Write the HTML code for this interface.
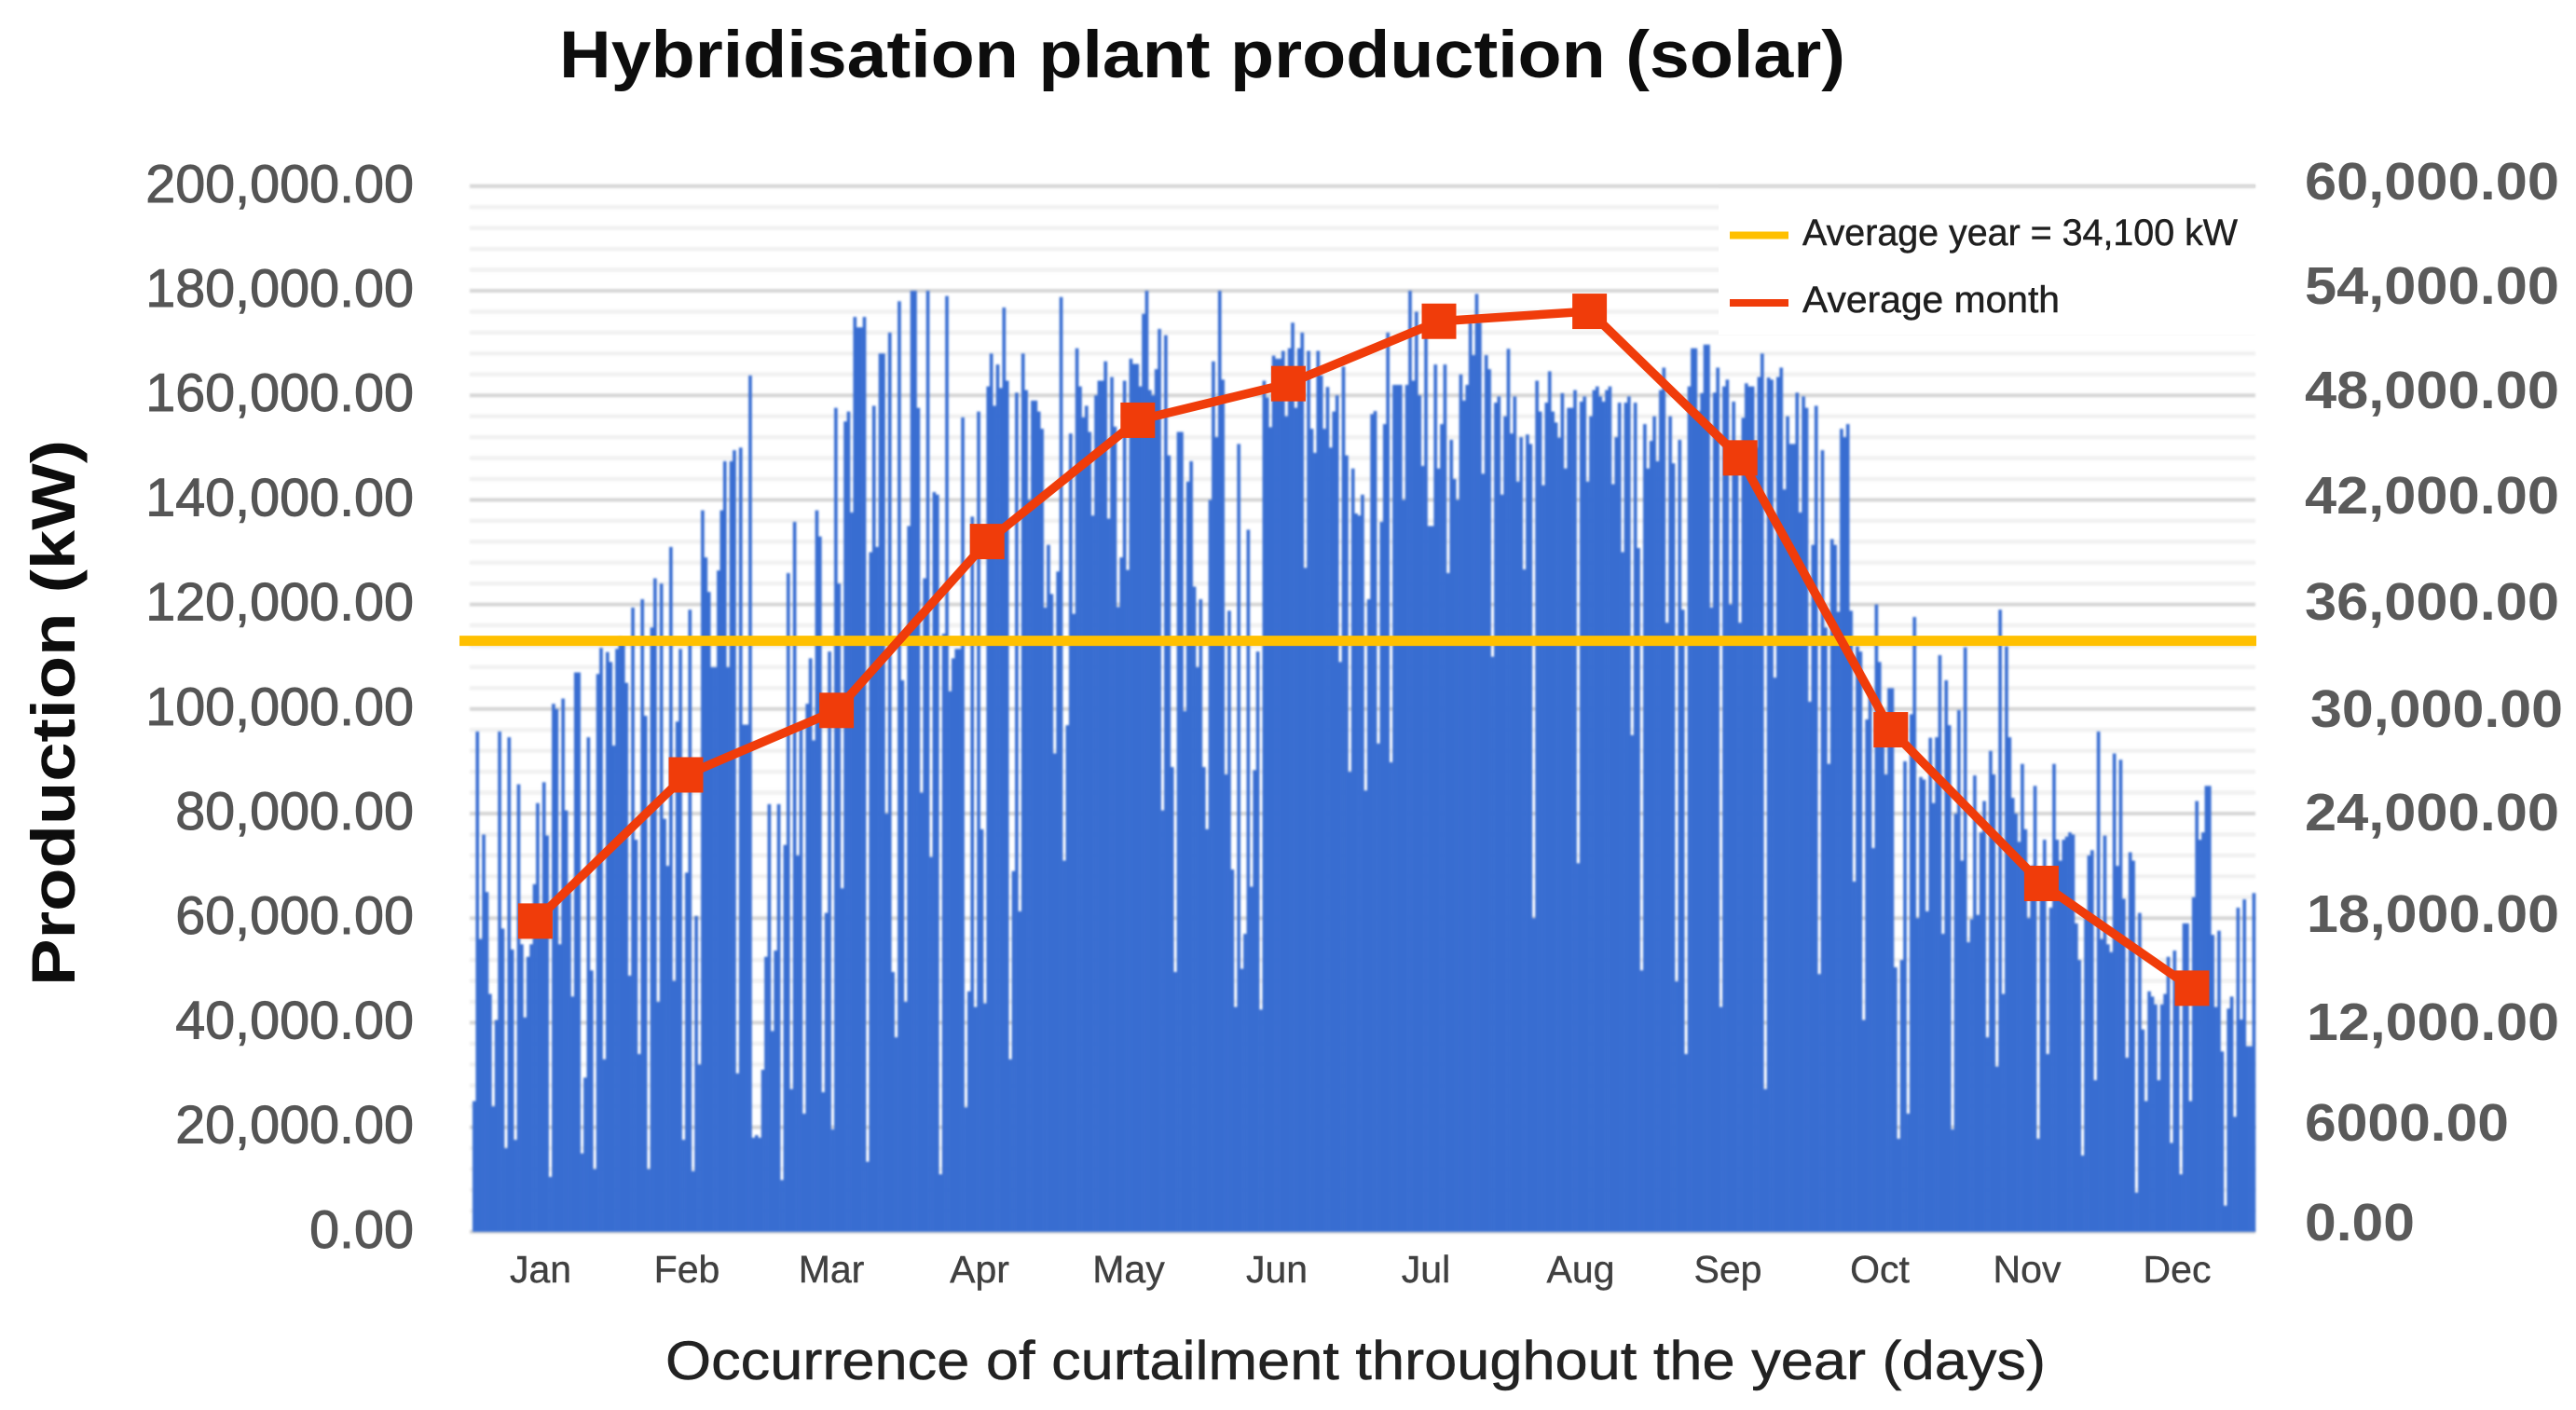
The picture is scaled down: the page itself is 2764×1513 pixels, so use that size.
<!DOCTYPE html>
<html lang="en">
<head>
<meta charset="utf-8">
<title>Hybridisation plant production (solar)</title>
<style>
html,body{margin:0;padding:0;background:#fff;}
body{width:2764px;height:1513px;overflow:hidden;}
svg{display:block;}
text{font-family:"Liberation Sans",sans-serif;}
</style>
</head>
<body>
<svg id="chart" xmlns="http://www.w3.org/2000/svg" width="2764" height="1513" viewBox="0 0 2764 1513">
  <defs>
    <filter id="soft" x="-2%" y="-2%" width="104%" height="104%"><feGaussianBlur stdDeviation="1.05"/></filter>
  </defs>
  <rect x="0" y="0" width="2764" height="1513" fill="#ffffff"/>
  <g id="grid" filter="url(#soft)"></g>
  <g id="bars" filter="url(#soft)"></g>
  <rect x="1844" y="208" width="578" height="151" fill="#ffffff"/>
  <line id="gridTop" x1="1844" x2="2420" y1="199.8" y2="199.8" stroke="#dcdcdc" stroke-width="3.5"/>
  <g id="avgYear"></g>
  <g id="avgMonth"></g>
  <g id="leftTicks"></g>

  <g font-size="41" fill="#404040" text-anchor="middle" stroke="#404040" stroke-width="0.4">
    <text x="580" y="1376">Jan</text>
    <text x="737" y="1376">Feb</text>
    <text x="892" y="1376">Mar</text>
    <text x="1051" y="1376">Apr</text>
    <text x="1211" y="1376">May</text>
    <text x="1370" y="1376">Jun</text>
    <text x="1530" y="1376">Jul</text>
    <text x="1696" y="1376">Aug</text>
    <text x="1854" y="1376">Sep</text>
    <text x="2017" y="1376">Oct</text>
    <text x="2175" y="1376">Nov</text>
    <text x="2336" y="1376">Dec</text>
  </g>

  <g font-size="57" font-weight="700" fill="#5a5a5a" style="font-weight:700">
    <text x="2473" y="214" textLength="273" lengthAdjust="spacingAndGlyphs">60,000.00</text>
    <text x="2473" y="326" textLength="273" lengthAdjust="spacingAndGlyphs">54,000.00</text>
    <text x="2473" y="438" textLength="273" lengthAdjust="spacingAndGlyphs">48,000.00</text>
    <text x="2473" y="551" textLength="273" lengthAdjust="spacingAndGlyphs">42,000.00</text>
    <text x="2473" y="665" textLength="273" lengthAdjust="spacingAndGlyphs">36,000.00</text>
    <text x="2479" y="780" textLength="271" lengthAdjust="spacingAndGlyphs">30,000.00</text>
    <text x="2473" y="891" textLength="273" lengthAdjust="spacingAndGlyphs">24,000.00</text>
    <text x="2475" y="1000" textLength="271" lengthAdjust="spacingAndGlyphs">18,000.00</text>
    <text x="2475" y="1116" textLength="271" lengthAdjust="spacingAndGlyphs">12,000.00</text>
    <text x="2473" y="1224" textLength="219" lengthAdjust="spacingAndGlyphs">6000.00</text>
    <text x="2473" y="1331" textLength="118" lengthAdjust="spacingAndGlyphs">0.00</text>
  </g>

  <text x="600" y="83" font-size="71" font-weight="700" fill="#0d0d0d" textLength="1380" lengthAdjust="spacingAndGlyphs">Hybridisation plant production (solar)</text>
  <text transform="translate(80,1058) rotate(-90)" font-size="66" font-weight="700" fill="#0d0d0d" textLength="586" lengthAdjust="spacingAndGlyphs">Production (kW)</text>
  <text x="714" y="1480" font-size="58" fill="#222222" stroke="#222222" stroke-width="0.5" textLength="1481" lengthAdjust="spacingAndGlyphs">Occurrence of curtailment throughout the year (days)</text>

  <g>
    <g>
      <rect x="1856" y="248.5" width="63" height="8" fill="#ffc000"/>
      <text x="1934" y="263" font-size="40" fill="#1f1f1f" stroke="#1f1f1f" stroke-width="0.5" textLength="467" lengthAdjust="spacingAndGlyphs">Average year = 34,100 kW</text>
    </g>
    <g>
      <rect x="1856" y="321" width="63" height="8" fill="#f03c0a"/>
      <text x="1934" y="335" font-size="40" fill="#1f1f1f" stroke="#1f1f1f" stroke-width="0.5" textLength="276" lengthAdjust="spacingAndGlyphs">Average month</text>
    </g>
  </g>
</svg>

<script>
const monthlyAverageKW = [17830,26220,29920,39610,46570,48670,52250,52820,44410,28810,19990,13980];
const yearlyAverageKW = [33910];
const leftTickValues = [0,20000,40000,60000,80000,100000,120000,140000,160000,180000,200000];
const leftTickLabels = ['0.00','20,000.00','40,000.00','60,000.00','80,000.00','100,000.00','120,000.00','140,000.00','160,000.00','180,000.00','200,000.00'];
const productionKW = [
25000,95700,56000,76000,65000,45500,24000,40500,95700,58000,
16000,94600,54000,17600,85600,55000,41000,52600,55000,66500,
82000,60000,86000,75800,10500,101000,100000,55000,102000,80600,
65000,45000,107000,107000,15000,29500,94600,50000,12000,106700,
111700,33000,110900,109000,93000,111500,113800,113000,105000,49000,
119400,75000,34000,121000,98700,12000,115600,125000,44000,124000,
79000,70000,131000,48000,97600,111500,17600,68700,119000,
11600,60400,32000,138000,129000,122400,108000,108000,126500,138000,147400,
108000,147400,149500,30300,150000,97000,97000,163800,18000,18500,
18000,31000,52600,81800,38400,53800,81800,9900,74000,126000,
27300,135800,72000,96600,22600,101000,109700,94000,138000,133000,
26700,61000,111000,19600,157600,124000,65700,155000,156900,137600,
175000,173000,173000,175000,13400,130000,158000,131000,168000,168000,
80000,172000,49700,37200,178000,105500,44000,
135000,180000,180000,157600,84000,125000,180000,71700,141500,141000,
11000,114400,179000,103400,109700,111500,111500,155800,23800,46000,
136800,43000,156900,77000,43700,161700,168000,158000,165900,161400,
176800,162800,33000,69000,160500,61300,168000,161000,140000,159000,
159000,156900,153600,119400,131400,122000,91500,126300,178800,71000,
96900,152700,118200,169000,161700,155800,158000,153000,137000,160000,
162800,162800,166500,136400,163500,154000,119500,129000,162800,
126600,167000,166000,166000,161700,175600,180000,161000,160000,165000,
172700,80600,171500,148500,88900,49700,153000,153000,99600,143500,
147400,123400,108000,121000,88900,77000,140000,166500,152000,180000,
163000,87500,118800,69300,43000,150700,50300,57000,134300,66000,
88300,111000,42500,162800,159600,153900,167600,167000,167000,168500,
156000,169000,173900,157600,169000,172000,127000,168500,153600,149000,
168500,163800,153600,161600,150000,156900,160000,109000,165500,148500,
88000,146000,137400,137000,141000,84400,121000,156400,157000,93400,
135800,154500,172000,89800,162000,162000,162000,140000,162000,180000,
162800,176000,160000,146500,172000,135000,135000,165900,146000,154500,
165900,126000,151500,144000,140000,164000,159000,162000,174000,167700,
179400,174000,145000,167700,165000,110000,158600,159800,141000,156000,
168900,152700,159800,143500,152000,126700,152500,150700,60000,162800,
156900,142800,158600,164600,156900,154800,151900,160400,146000,157600,
157600,161000,70500,158800,159800,143500,156000,161000,161700,159800,
158800,161000,161700,143000,152000,158600,130000,158600,159800,95000,
158600,130800,50000,154500,146000,151300,156000,147400,161000,165300,
116500,156000,147000,47900,151500,119000,34000,161700,169000,169000,
157000,160400,169700,169700,119400,160500,165300,43000,161700,163000,
120000,158800,148000,116500,155700,162300,161700,161700,150000,163500,
168000,27300,163400,163000,106000,163500,165300,142000,156000,150700,
150700,160500,137600,159800,157600,101400,131400,158000,49300,149500,
115600,89500,132500,131400,118600,153600,152000,154500,118800,67000,
112000,111000,40500,98000,103000,73400,120000,109000,95000,87500,
104000,104000,50600,17800,52000,90000,22600,99000,117600,60000,
87000,86500,61300,94500,82000,94600,110300,57000,105500,96900,
19600,80000,99800,71000,111800,55400,59800,87300,60600,76400,
82400,37200,92000,87500,31600,119000,45500,112000,94600,83000,
80000,74600,89500,77000,60000,70000,85300,17800,65000,75000,
34000,62000,89500,75000,71000,75000,75600,76400,76000,59000,
52000,14600,60000,72000,73000,29000,95700,56000,75800,55000,
53500,91500,70000,90300,63700,33300,72600,71000,7500,61000,
38700,25000,46000,45000,43500,29000,43500,45500,52600,17000,
53800,45000,11000,59000,59000,25000,64000,82400,75000,76400,
85300,85300,56800,43000,57600,34500,5000,42700,45000,22000,
62000,40600,63600,35500,35500,64800
];

const SVG_NS = 'http://www.w3.org/2000/svg';
const plotLeft = 507, plotRight = 2420, plotTop = 199.8, plotBottom = 1321.8;
const leftMax = 200000, rightMax = 60000;

function yLeft(v){ return plotBottom - (Math.min(v, leftMax) / leftMax) * (plotBottom - plotTop); }
function yRight(v){ return plotBottom - (v / rightMax) * (plotBottom - plotTop); }
function barStep(){ return (plotRight - plotLeft) / productionKW.length; }
function xBar(i){ return plotLeft + i * barStep(); }
function xMonth(i){ return 574.4 + 161.6 * i; }
function make(tag, parent){ const el = document.createElementNS(SVG_NS, tag); parent.appendChild(el); return el; }

const grid = document.getElementById('grid');
for (let v = 0; v <= leftMax; v += 4000) {
  const major = v % 20000 === 0;
  const gl = make('line', grid);
  
  
  gl.setAttribute('x1', 504);
  gl.setAttribute('x2', plotRight);
  gl.setAttribute('y1', yLeft(v));
  gl.setAttribute('y2', yLeft(v));
  gl.setAttribute('stroke', major ? '#d6d6d6' : '#f1f1f1');
  gl.setAttribute('stroke-width', major ? 4 : 4.5);
}

const bars = document.getElementById('bars');
productionKW.forEach(function(v, i){
  const r = make('rect', bars);
  
  
  r.setAttribute('x', xBar(i));
  r.setAttribute('y', yLeft(v));
  r.setAttribute('width', barStep() + 0.25);
  r.setAttribute('height', plotBottom - yLeft(v));
  r.setAttribute('fill', '#376dd1');
});

const avgYearGroup = document.getElementById('avgYear');
const yearLine = make('line', avgYearGroup);


yearLine.setAttribute('x1', 493);
yearLine.setAttribute('x2', 2421);
yearLine.setAttribute('y1', yRight(yearlyAverageKW[0]));
yearLine.setAttribute('y2', yRight(yearlyAverageKW[0]));
yearLine.setAttribute('stroke', '#ffc000');
yearLine.setAttribute('stroke-width', 11);

const avgMonthGroup = document.getElementById('avgMonth');
const monthLine = make('polyline', avgMonthGroup);


monthLine.setAttribute('points', monthlyAverageKW.map(function(v, i){ return xMonth(i) + ',' + yRight(v); }).join(' '));
monthLine.setAttribute('fill', 'none');
monthLine.setAttribute('stroke', '#f03c0a');
monthLine.setAttribute('stroke-width', 9.5);
monthLine.setAttribute('stroke-linejoin', 'round');
monthlyAverageKW.forEach(function(v, i){
  const m = make('rect', avgMonthGroup);
  
  
  m.setAttribute('x', xMonth(i) - 18.5);
  m.setAttribute('y', yRight(v) - 19);
  m.setAttribute('width', 37);
  m.setAttribute('height', 38);
  m.setAttribute('fill', '#f03c0a');
});

const leftTicks = document.getElementById('leftTicks');
leftTickValues.forEach(function(v, i){
  const t = make('text', leftTicks);
  
  
  t.setAttribute('x', 444);
  t.setAttribute('y', yLeft(v) + 17);
  t.setAttribute('text-anchor', 'end');
  t.setAttribute('font-size', 57.5);
  t.setAttribute('fill', '#555555');
  t.setAttribute('stroke', '#555555');
  t.setAttribute('stroke-width', 1);
  t.textContent = leftTickLabels[i];
});
</script>
</body>
</html>
